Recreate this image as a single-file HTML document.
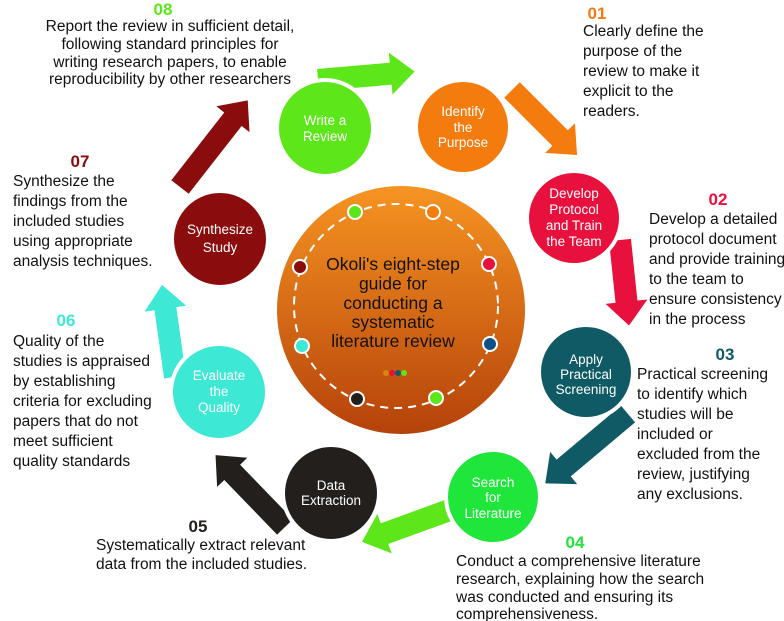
<!DOCTYPE html>
<html><head><meta charset="utf-8"><style>
html,body{margin:0;padding:0;background:#fff;}
body{width:784px;height:621px;overflow:hidden;position:relative;font-family:"Liberation Sans",Arial,sans-serif;}
svg{position:absolute;left:0;top:0;}
</style></head><body>
<svg width="784" height="621" viewBox="0 0 784 621" font-family="Liberation Sans, Arial, sans-serif">
<defs>
<linearGradient id="g" x1="0" y1="0" x2="0" y2="1">
<stop offset="0" stop-color="#f69422"/><stop offset="1" stop-color="#b5420a"/>
</linearGradient>
</defs>
<!-- arrows -->
<g>
<path transform="translate(318,80) rotate(-5)" d="M0,-11 L73,-11 L73,-21 L97,0 L73,21 L73,11 L0,11Z" fill="#5de619"/>
<path transform="translate(512,90) rotate(45)" d="M0,-11 L68,-11 L68,-21 L92,0 L68,21 L68,11 L0,11Z" fill="#f47b0e"/>
<path transform="translate(620,240) rotate(84)" d="M0,-11 L62,-11 L62,-21 L86,0 L62,21 L62,11 L0,11Z" fill="#e8103c"/>
<path transform="translate(628,414) rotate(140)" d="M0,-11 L84,-11 L84,-21 L108,0 L84,21 L84,11 L0,11Z" fill="#0f5a64"/>
<path transform="translate(455,508) rotate(160)" d="M0,-11 L75,-11 L75,-21 L99,0 L75,21 L75,11 L0,11Z" fill="#5de619"/>
<path transform="translate(285,527) rotate(-134)" d="M0,-11 L76,-11 L76,-21 L100,0 L76,21 L76,11 L0,11Z" fill="#231f1c"/>
<path transform="translate(175,377) rotate(-98)" d="M0,-11 L69,-11 L69,-21 L93,0 L69,21 L69,11 L0,11Z" fill="#3de8d4"/>
<path transform="translate(180,187) rotate(-52)" d="M0,-11 L86,-11 L86,-21 L110,0 L86,21 L86,11 L0,11Z" fill="#8b0c0c"/>
</g>
<!-- step circles -->
<g font-size="13.5" fill="#fff" text-anchor="middle">
<circle cx="325" cy="128" r="48" fill="#5de619" stroke="#fff" stroke-width="4"/>
<text x="325" y="125" fill="#fff">Write a</text><text x="325" y="141" fill="#fff">Review</text>
<circle cx="463" cy="127" r="47" fill="#f47b0e" stroke="#fff" stroke-width="4"/>
<text x="463" y="116">Identify</text><text x="463" y="132">the</text><text x="463" y="147">Purpose</text>
<circle cx="574" cy="218" r="47" fill="#e8103c" stroke="#fff" stroke-width="4"/>
<text x="574" y="198">Develop</text><text x="574" y="214">Protocol</text><text x="574" y="230">and Train</text><text x="574" y="246">the Team</text>
<circle cx="586" cy="372" r="47" fill="#0f5a64" stroke="#fff" stroke-width="4"/>
<text x="586" y="364">Apply</text><text x="586" y="379">Practical</text><text x="586" y="394">Screening</text>
<circle cx="493" cy="497" r="47" fill="#1ee63a" stroke="#fff" stroke-width="4"/>
<text x="493" y="487">Search</text><text x="493" y="502">for</text><text x="493" y="518">Literature</text>
<circle cx="331" cy="493" r="48" fill="#231f1c" stroke="#fff" stroke-width="4"/>
<text x="331" y="490">Data</text><text x="331" y="505">Extraction</text>
<circle cx="219" cy="392" r="48" fill="#3de8d4" stroke="#fff" stroke-width="4"/>
<text x="219" y="380">Evaluate</text><text x="219" y="396">the</text><text x="219" y="412">Quality</text>
<circle cx="220" cy="239" r="48" fill="#8b0c0c" stroke="#fff" stroke-width="4"/>
<text x="220" y="234">Synthesize</text><text x="220" y="252">Study</text>
</g>
<!-- center -->
<circle cx="401" cy="310" r="124" fill="url(#g)"/>
<circle cx="396" cy="306" r="102" fill="none" stroke="#fff" stroke-width="2" stroke-dasharray="8,6"/>
<g stroke="#fff" stroke-width="2">
<circle cx="355" cy="212" r="7" fill="#5de619"/>
<circle cx="433" cy="212" r="7" fill="#f47b0e"/>
<circle cx="489" cy="264" r="7" fill="#e8103c"/>
<circle cx="490" cy="344" r="7" fill="#0f4f8a"/>
<circle cx="436" cy="398" r="7" fill="#5de619"/>
<circle cx="357" cy="399" r="7" fill="#231f1c"/>
<circle cx="302" cy="346" r="7" fill="#3de8d4"/>
<circle cx="300" cy="267" r="7" fill="#8b0c0c"/>
</g>
<circle cx="386" cy="373" r="3" fill="#d4890a"/><circle cx="392" cy="373" r="3" fill="#e8103c"/><circle cx="398" cy="373" r="3" fill="#0f5a64"/><circle cx="404" cy="373" r="3" fill="#5de619"/>
<g font-size="17.5" fill="#111" text-anchor="middle">
<text x="393" y="270">Okoli's eight-step</text>
<text x="393" y="289.5">guide for</text>
<text x="393" y="309">conducting a</text>
<text x="393" y="328">systematic</text>
<text x="393" y="347">literature review</text>
</g>
<!-- numbers -->
<g font-size="17" font-weight="bold" text-anchor="middle">
<text x="163" y="15" fill="#5de619">08</text>
<text x="597" y="19" fill="#f47b0e">01</text>
<text x="718" y="205" fill="#e8103c">02</text>
<text x="725" y="360" fill="#0f5a64">03</text>
<text x="575" y="548" fill="#1ee63a">04</text>
<text x="198" y="532" fill="#231f1c">05</text>
<text x="66" y="326" fill="#3de8d4">06</text>
<text x="80" y="167" fill="#8b0c0c">07</text>
</g>
<g font-size="15.5" fill="#111">
<g text-anchor="middle">
<text x="170" y="31">Report the review in sufficient detail,</text>
<text x="170" y="49">following standard principles for</text>
<text x="170" y="67">writing research papers, to enable</text>
<text x="170" y="84">reproducibility by other researchers</text>
</g>

<text x="583" y="36">Clearly define the</text>
<text x="583" y="56">purpose of the</text>
<text x="583" y="76">review to make it</text>
<text x="583" y="96">explicit to the</text>
<text x="583" y="116">readers.</text>

<text x="649" y="224">Develop a detailed</text>
<text x="649" y="244">protocol document</text>
<text x="649" y="264">and provide training</text>
<text x="649" y="284">to the team to</text>
<text x="649" y="304">ensure consistency</text>
<text x="649" y="324">in the process</text>

<text x="637" y="379">Practical screening</text>
<text x="637" y="399">to identify which</text>
<text x="637" y="419">studies will be</text>
<text x="637" y="439">included or</text>
<text x="637" y="459">excluded from the</text>
<text x="637" y="479">review, justifying</text>
<text x="637" y="499">any exclusions.</text>

<text x="456" y="566">Conduct a comprehensive literature</text>
<text x="456" y="584">research, explaining how the search</text>
<text x="456" y="602">was conducted and ensuring its</text>
<text x="456" y="619">comprehensiveness.</text>

<text x="96" y="550">Systematically extract relevant</text>
<text x="96" y="569">data from the included studies.</text>

<text x="13" y="346">Quality of the</text>
<text x="13" y="366">studies is appraised</text>
<text x="13" y="386">by establishing</text>
<text x="13" y="406">criteria for excluding</text>
<text x="13" y="426">papers that do not</text>
<text x="13" y="446">meet sufficient</text>
<text x="13" y="466">quality standards</text>

<text x="13" y="186">Synthesize the</text>
<text x="13" y="206">findings from the</text>
<text x="13" y="226">included studies</text>
<text x="13" y="246">using appropriate</text>
<text x="13" y="266">analysis techniques.</text>
</g>
</svg>
</body></html>
